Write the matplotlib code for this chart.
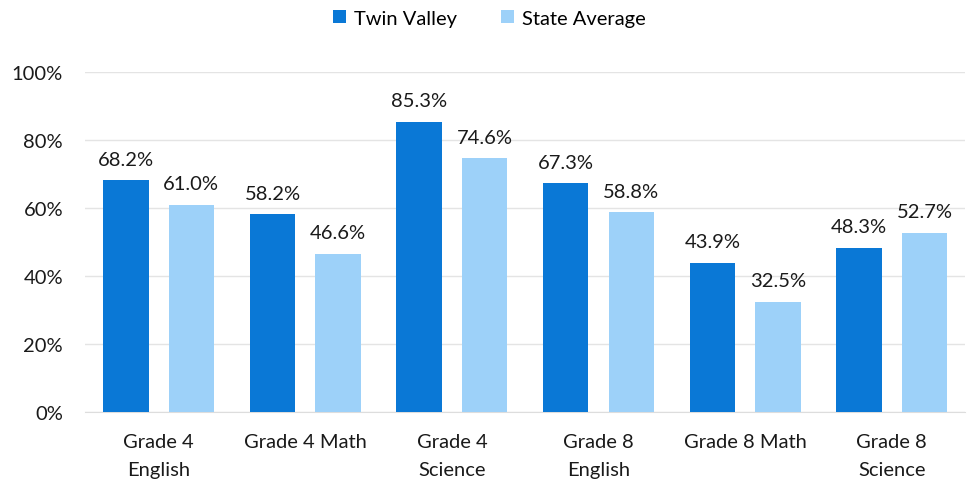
import matplotlib
matplotlib.use("Agg")
import matplotlib.pyplot as plt
import numpy as np
from matplotlib.ticker import FuncFormatter

categories = ["Grade 4\nEnglish", "Grade 4 Math", "Grade 4\nScience", "Grade 8\nEnglish", "Grade 8 Math", "Grade 8\nScience"]
twin_valley = [68.2, 58.2, 85.3, 67.3, 43.9, 48.3]
state_average = [61.0, 46.6, 74.6, 58.8, 32.5, 52.7]
series_names = ["Twin Valley", "State Average"]

plt.rcParams['font.family'] = ['Lato', 'DejaVu Sans']

fig = plt.figure(figsize=(9.69, 4.89), dpi=100)
ax = fig.add_axes([0.088, 0.155, 0.908, 0.696])

x = np.arange(len(categories))
w = 0.31
gap = 0.137
c1 = "#0A78D6"
c2 = "#9DD1F9"
fs = 14.5
b1 = ax.bar(x - (w + gap) / 2, twin_valley, w, color=c1, label=series_names[0], zorder=3)
b2 = ax.bar(x + (w + gap) / 2, state_average, w, color=c2, label=series_names[1], zorder=3)

for bars, vals in ((b1, twin_valley), (b2, state_average)):
    for r, v in zip(bars, vals):
        ax.annotate(f"{v:.1f}%", (r.get_x() + r.get_width() / 2, v), xytext=(0, 9),
                    textcoords="offset points", ha="center", va="bottom", fontsize=fs, color="#1a1a1a")

ax.set_ylim(0, 100)
ax.set_xlim(-0.5, len(categories) - 0.5)
ax.set_yticks(np.arange(0, 101, 20))
ax.yaxis.set_major_formatter(FuncFormatter(lambda v, p: f"{int(v)}%"))
ax.set_xticks(x)
ax.set_xticklabels(categories, linespacing=1.75)
ax.tick_params(axis='both', length=0, labelsize=fs, colors="#1a1a1a")
ax.tick_params(axis='x', pad=15)
ax.tick_params(axis='y', pad=16)
ax.grid(axis='y', color="#E4E4E4", linewidth=1, zorder=0)
for s in ["top", "right", "left"]:
    ax.spines[s].set_visible(False)
ax.spines["bottom"].set_color("#DDDDDD")

fig.legend(loc="upper center", bbox_to_anchor=(0.505, 1.015), ncol=2, frameon=False,
           fontsize=fs, handlelength=0.65, handleheight=0.65, columnspacing=2.2, handletextpad=0.4)

fig.savefig("out.png", dpi=100)
